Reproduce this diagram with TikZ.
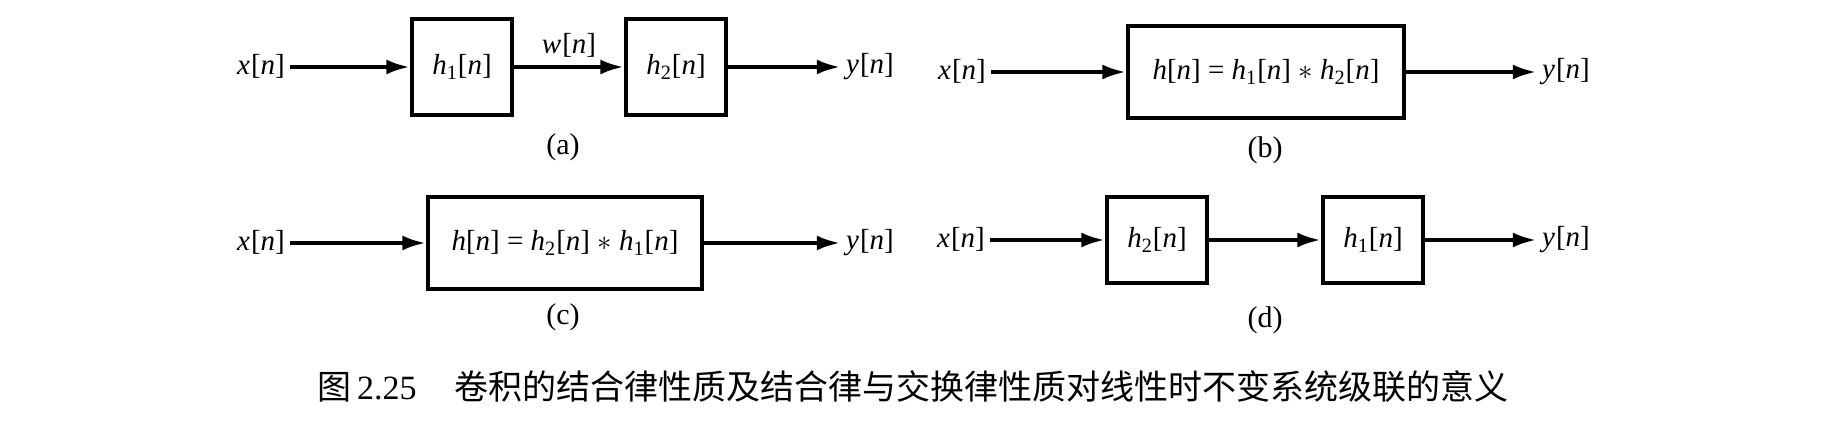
\documentclass[tikz,border=0pt]{standalone}
\usepackage{fontspec}
\setmainfont{Liberation Serif}
\newfontfamily\cjk{Noto Sans CJK SC}
\usetikzlibrary{arrows.meta}
\newcommand{\sig}[2][]{\textit{#2}\textsubscript{#1}[\textit{n}]}

\begin{document}
\begin{tikzpicture}[x=0.5pt,y=-0.5pt,
   >={Latex[length=12pt,width=7.5pt]},
   every node/.style={font=\fontsize{14.5}{16}\selectfont,inner sep=2.5pt},
   blk/.style={draw,line width=1.7pt,inner sep=0pt},
   sigline/.style={->,line width=2.2pt},
   sublabel/.style={font=\fontsize{15}{17}\selectfont}]
   \useasboundingbox (0,0) rectangle (1832,421);

   % (a) h1 then h2, with w[n] between
   \begin{scope}
     \node (xa) at (261,67) {\sig{x}};
     \node[blk,minimum width=50pt,minimum height=48pt] (h1a) at (462,67) {\sig[1]{h}};
     \node[blk,minimum width=50pt,minimum height=48pt] (h2a) at (676,67) {\sig[2]{h}};
     \node (ya) at (870,67) {\sig{y}};
     \draw[sigline] (xa) -- (h1a);
     \draw[sigline] (h1a) -- node[above,yshift=1pt] (wa) {\sig{w}} (h2a);
     \draw[sigline] (h2a) -- (ya);
     \node[sublabel] (la) at (563,147) {(a)};
   \end{scope}

   % (b) one system h1 * h2
   \begin{scope}
     \node (xb) at (962,72) {\sig{x}};
     \node[blk,minimum width=138pt,minimum height=46pt] (hb) at (1266,72)
       {\textit{h}[\textit{n}] = \sig[1]{h} $\ast$ \sig[2]{h}};
     \node (yb) at (1566,72) {\sig{y}};
     \draw[sigline] (xb) -- (hb);
     \draw[sigline] (hb) -- (yb);
     \node[sublabel] (lb) at (1265,150) {(b)};
   \end{scope}

   % (c) one system h2 * h1
   \begin{scope}
     \node (xc) at (261,243) {\sig{x}};
     \node[blk,minimum width=137pt,minimum height=46pt] (hc) at (565,243)
       {\textit{h}[\textit{n}] = \sig[2]{h} $\ast$ \sig[1]{h}};
     \node (yc) at (870,243) {\sig{y}};
     \draw[sigline] (xc) -- (hc);
     \draw[sigline] (hc) -- (yc);
     \node[sublabel] (lc) at (563,317) {(c)};
   \end{scope}

   % (d) h2 then h1
   \begin{scope}
     \node (xd) at (961,240) {\sig{x}};
     \node[blk,minimum width=50pt,minimum height=43pt] (h2d) at (1157,240) {\sig[2]{h}};
     \node[blk,minimum width=50pt,minimum height=43pt] (h1d) at (1373,240) {\sig[1]{h}};
     \node (yd) at (1566,240) {\sig{y}};
     \draw[sigline] (xd) -- (h2d);
     \draw[sigline] (h2d) -- (h1d);
     \draw[sigline] (h1d) -- (yd);
     \node[sublabel] (ld) at (1265,320) {(d)};
   \end{scope}

   \node[anchor=west,font=\fontsize{17}{20}\selectfont,inner sep=0pt] (cap) at (317,387)
     {{\cjk 图}\,2.25\hspace{19pt}{\cjk 卷积的结合律性质及结合律与交换律性质对线性时不变系统级联的意义}};
\end{tikzpicture}
\end{document}
